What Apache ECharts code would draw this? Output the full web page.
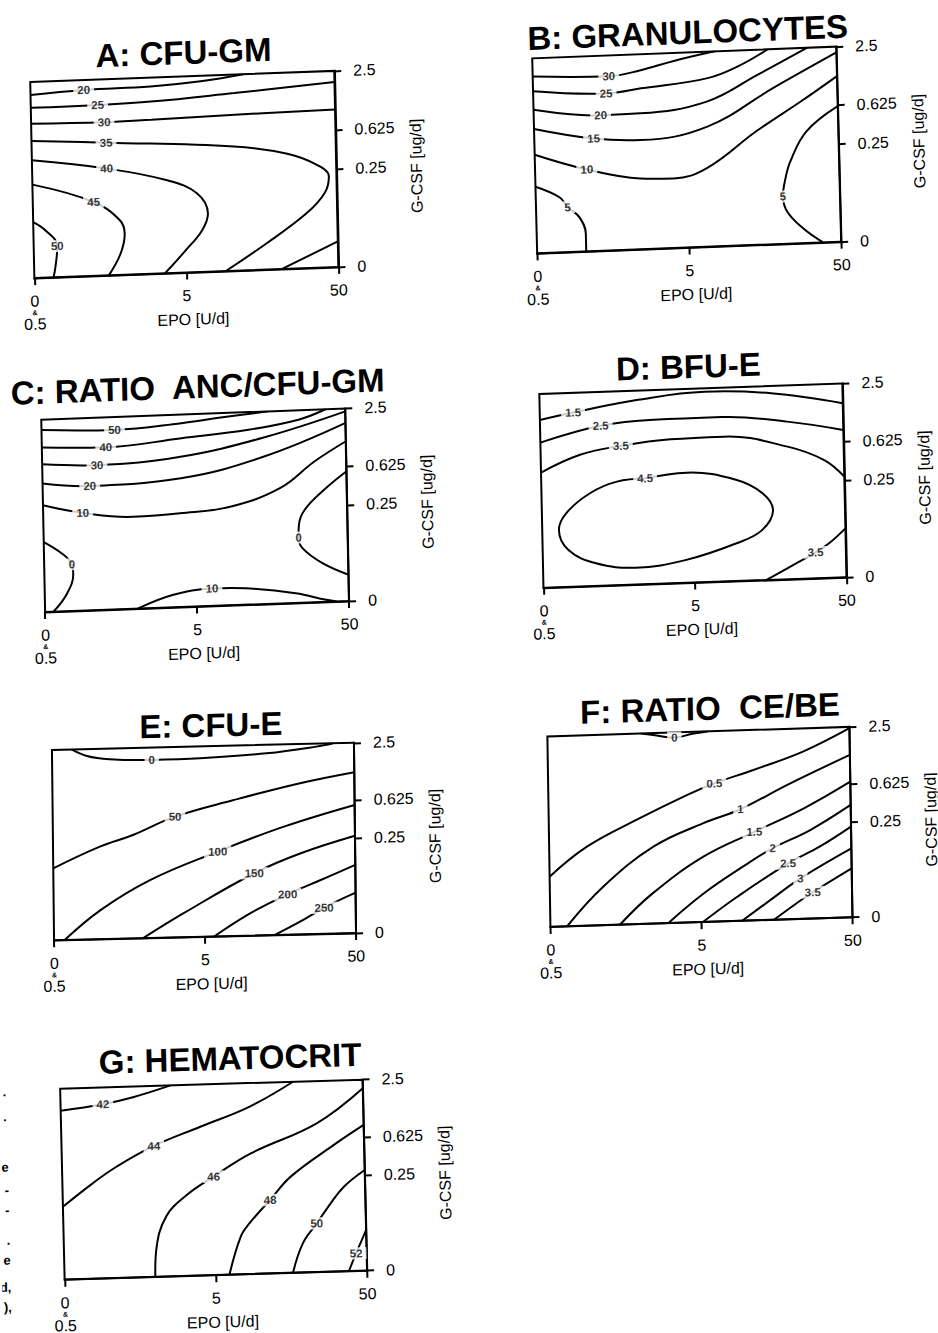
<!DOCTYPE html>
<html>
<head>
<meta charset="utf-8">
<title>EPO / G-CSF response surfaces</title>
<script src="https://cdn.jsdelivr.net/npm/echarts@6/dist/echarts.min.js"></script>
<style>
    html, body { margin: 0; padding: 0; background: #fff; }
    body { width: 938px; height: 1333px; position: relative; overflow: hidden; }
    .panel { position: absolute; left: 0; top: 0; width: 938px; height: 1333px; }
</style>
</head>
<body>
<script>
    // x position = log10(EPO / 0.5): 0 (and 0.5) U/d -> 0, 5 -> 1, 50 -> 2
    // y position = 0.5 * log10(G-CSF / 0.025): 0 -> 0, 0.25 -> 0.5, 0.625 -> 0.7, 2.5 -> 1
    var xTicks = [0, 1, 2];
    var xTickText = [['0', '&', '0.5'], ['5'], ['50']];
    var yTicks = [0, 0.5, 0.7, 1];
    var yTickText = ['0', '0.25', '0.625', '2.5'];

    // A: CFU-GM
    var aLines = [
        [[0, 0.934], [0.35, 0.95], [0.79, 0.955], [1.12, 0.972], [1.4, 1]],
        [[0, 0.869], [0.44, 0.871], [0.79, 0.878], [1.34, 0.906], [2, 0.943]],
        [[0, 0.788], [0.48, 0.781], [0.79, 0.785], [1.34, 0.795], [2, 0.803]],
        [[0, 0.70], [0.49, 0.677], [1.33, 0.633], [1.68, 0.586], [1.87, 0.525], [1.95, 0.463], [1.92, 0.379], [1.80, 0.28], [1.53, 0.133], [1.26, 0]],
        [[0, 0.601], [0.49, 0.545], [0.88, 0.475], [1.08, 0.402], [1.15, 0.297], [1.11, 0.213], [1.0, 0.114], [0.86, 0]],
        [[0, 0.477], [0.40, 0.377], [0.57, 0.279], [0.60, 0.21], [0.57, 0.108], [0.49, 0]],
        [[0, 0.286], [0.08, 0.241], [0.155, 0.159], [0.14, 0.052], [0.126, 0]],
        [[1.63, 0], [2, 0.13]]
    ];
    var aLabels = [[0.35, 0.95, '20'], [0.44, 0.871, '25'], [0.48, 0.781, '30'], [0.49, 0.677, '35'],
        [0.49, 0.545, '40'], [0.40, 0.377, '45'], [0.155, 0.159, '50']];

    // B: GRANULOCYTES
    var bLines = [
        [[0, 0.907], [0.5, 0.893], [0.71, 0.918], [0.93, 0.959], [1.2, 1]],
        [[0, 0.832], [0.48, 0.806], [0.71, 0.825], [1.15, 0.864], [1.35, 0.918], [1.55, 1]],
        [[0, 0.736], [0.44, 0.695], [0.70, 0.697], [1.14, 0.744], [1.48, 0.872], [1.81, 1]],
        [[0, 0.638], [0.39, 0.577], [0.70, 0.56], [1.14, 0.616], [1.58, 0.801], [2, 0.97]],
        [[0, 0.506], [0.34, 0.42], [0.69, 0.363], [0.91, 0.357], [1.13, 0.403], [1.46, 0.582], [1.76, 0.727], [2, 0.849]],
        [[0, 0.342], [0.156, 0.283], [0.208, 0.23], [0.283, 0.177], [0.323, 0.091], [0.323, 0]],
        [[2, 0.695], [1.79, 0.572], [1.68, 0.422], [1.64, 0.32], [1.625, 0.243], [1.65, 0.165], [1.75, 0.077], [1.88, 0]]
    ];
    var bLabels = [[0.5, 0.893, '30'], [0.48, 0.806, '25'], [0.44, 0.695, '20'], [0.39, 0.577, '15'],
        [0.34, 0.42, '10'], [0.208, 0.23, '5'], [1.625, 0.243, '5']];

    // C: RATIO ANC/CFU-GM
    var cLines = [
        [[0, 0.946], [0.48, 0.933], [0.92, 0.955], [1.18, 0.977], [1.49, 1]],
        [[0, 0.855], [0.42, 0.844], [0.92, 0.877], [1.36, 0.908], [1.69, 0.951], [1.87, 1]],
        [[0, 0.768], [0.36, 0.753], [0.91, 0.781], [1.46, 0.865], [2, 0.985]],
        [[0, 0.668], [0.31, 0.646], [0.91, 0.669], [1.46, 0.766], [2, 0.925]],
        [[0, 0.555], [0.26, 0.508], [0.59, 0.478], [0.9, 0.487], [1.23, 0.512], [1.56, 0.599], [1.79, 0.731], [2, 0.83]],
        [[0, 0.364], [0.12, 0.30], [0.182, 0.243], [0.19, 0.194], [0.146, 0.091], [0.055, 0]],
        [[2, 0.674], [1.85, 0.582], [1.72, 0.482], [1.68, 0.405], [1.676, 0.339], [1.70, 0.283], [1.83, 0.201], [2, 0.136]],
        [[0.61, 0], [0.84, 0.064], [1.1, 0.091], [1.32, 0.085], [1.65, 0.05], [1.85, 0.01], [1.92, 0]]
    ];
    var cLabels = [[0.48, 0.933, '50'], [0.42, 0.844, '40'], [0.36, 0.753, '30'], [0.31, 0.646, '20'],
        [0.26, 0.508, '10'], [0.182, 0.243, '0'], [1.676, 0.339, '0'], [1.1, 0.091, '10']];

    // D: BFU-E
    var dLines = [
        [[0, 0.866], [0.22, 0.898], [0.65, 0.952], [1.09, 0.982], [1.53, 0.962], [2, 0.898]],
        [[0, 0.749], [0.40, 0.825], [0.75, 0.846], [1.2, 0.848], [1.63, 0.813], [2, 0.76]],
        [[0, 0.594], [0.26, 0.679], [0.53, 0.718], [0.86, 0.743], [1.21, 0.747], [1.63, 0.684], [1.87, 0.608], [2, 0.519]],
        [[0.686, 0.546], [0.96, 0.568], [1.29, 0.521], [1.46, 0.447], [1.525, 0.36], [1.45, 0.258], [1.28, 0.195], [0.94, 0.117],
            [0.61, 0.087], [0.35, 0.117], [0.17, 0.19], [0.11, 0.295], [0.16, 0.38], [0.32, 0.479], [0.50, 0.534], [0.686, 0.546]],
        [[2, 0.252], [1.89, 0.178], [1.80, 0.134], [1.67, 0.08], [1.47, 0]]
    ];
    var dLabels = [[0.22, 0.898, '1.5'], [0.40, 0.825, '2.5'], [0.53, 0.718, '3.5'], [0.686, 0.546, '4.5'], [1.80, 0.134, '3.5']];

    // E: CFU-E
    var eLines = [
        [[0.13, 1], [0.23, 0.964], [0.38, 0.944], [0.66, 0.935], [0.98, 0.938], [1.42, 0.955], [1.75, 0.984], [1.86, 1]],
        [[0, 0.378], [0.31, 0.486], [0.53, 0.543], [0.81, 0.634], [1.2, 0.714], [1.64, 0.794], [2, 0.845]],
        [[0.07, 0], [0.31, 0.153], [0.64, 0.304], [1.09, 0.445], [1.53, 0.568], [2, 0.673]],
        [[0.59, 0], [0.86, 0.126], [1.33, 0.327], [1.64, 0.426], [2, 0.511]],
        [[1.06, 0], [1.3, 0.117], [1.55, 0.212], [1.77, 0.283], [2, 0.358]],
        [[1.46, 0], [1.63, 0.067], [1.79, 0.137], [2, 0.212]]
    ];
    var eLabels = [[0.66, 0.935, '0'], [0.81, 0.634, '50'], [1.09, 0.445, '100'], [1.33, 0.327, '150'],
        [1.55, 0.212, '200'], [1.79, 0.137, '250']];

    // F: RATIO CE/BE
    var fLines = [
        [[0.62, 1], [0.7, 0.99], [0.84, 0.973], [0.96, 0.99], [1.06, 1]],
        [[0, 0.264], [0.25, 0.415], [0.58, 0.547], [0.92, 0.67], [1.1, 0.726], [1.36, 0.79], [1.69, 0.878], [2, 0.993]],
        [[0.11, 0], [0.35, 0.2], [0.69, 0.404], [1.02, 0.518], [1.27, 0.586], [1.58, 0.705], [2, 0.853]],
        [[0.46, 0], [0.68, 0.159], [1.02, 0.343], [1.36, 0.465], [1.69, 0.58], [2, 0.712]],
        [[0.78, 0], [1.02, 0.151], [1.28, 0.284], [1.48, 0.376], [1.73, 0.465], [2, 0.59]],
        [[1.01, 0], [1.24, 0.127], [1.58, 0.294], [1.79, 0.376], [2, 0.476]],
        [[1.27, 0], [1.46, 0.105], [1.66, 0.213], [2, 0.362]],
        [[1.48, 0], [1.63, 0.082], [1.74, 0.138], [2, 0.257]]
    ];
    var fLabels = [[0.84, 0.973, '0'], [1.1, 0.726, '0.5'], [1.27, 0.586, '1'], [1.36, 0.465, '1.5'],
        [1.48, 0.376, '2'], [1.58, 0.294, '2.5'], [1.66, 0.213, '3'], [1.74, 0.138, '3.5']];

    // G: HEMATOCRIT
    var gLines = [
        [[0, 0.885], [0.28, 0.912], [0.48, 0.944], [0.73, 1]],
        [[0, 0.382], [0.2, 0.5], [0.36, 0.583], [0.61, 0.686], [0.92, 0.779], [1.25, 0.877], [1.54, 1]],
        [[0.6, 0], [0.61, 0.141], [0.68, 0.314], [0.82, 0.424], [1.0, 0.516], [1.25, 0.632], [1.69, 0.779], [2, 0.955]],
        [[1.09, 0], [1.17, 0.197], [1.23, 0.266], [1.37, 0.385], [1.51, 0.504], [1.8, 0.663], [2, 0.763]],
        [[1.51, 0], [1.58, 0.153], [1.675, 0.255], [1.77, 0.358], [1.86, 0.443], [2, 0.527]],
        [[1.88, 0], [1.93, 0.092], [1.97, 0.161], [2, 0.213]]
    ];
    var gLabels = [[0.28, 0.912, '42'], [0.61, 0.686, '44'], [1.0, 0.516, '46'], [1.37, 0.385, '48'],
        [1.675, 0.255, '50'], [1.93, 0.092, '52']];

    // line ends of the neighbouring page column that show at the left margin
    var marginBits = ['·', '·', 'e', '-', '-', '.', 'e', 'd,', '),'];

    // layout: plot box centre / size, scan tilt, title centre
    var panels = [
        {title: 'A: CFU-GM', lines: aLines, labels: aLabels, cx: 184.3, cy: 174.5, w: 304, h: 196, ta: 0.037, tb: 0.021, tx: 186, ty: 52.5},
        {title: 'B: GRANULOCYTES', lines: bLines, labels: bLabels, cx: 686.7, cy: 150, w: 304, h: 195, ta: 0.0386, tb: 0.0254, tx: 690.7, ty: 32.4},
        {title: 'C: RATIO  ANC/CFU-GM', lines: cLines, labels: cLabels, cx: 195.2, cy: 510.3, w: 304, h: 192.4, ta: 0.0366, tb: 0.02, tx: 200.1, ty: 386.7},
        {title: 'D: BFU-E', lines: dLines, labels: dLabels, cx: 692.9, cy: 485.6, w: 303, h: 193.8, ta: 0.0347, tb: 0.0214, tx: 690.9, ty: 366.5},
        {title: 'E: CFU-E', lines: eLines, labels: eLabels, cx: 204, cy: 841.5, w: 302, h: 190.4, ta: 0.024, tb: 0.011, tx: 212.1, ty: 725.2},
        {title: 'F: RATIO  CE/BE', lines: fLines, labels: fLabels, cx: 699.9, cy: 826.9, w: 302, h: 190.4, ta: 0.032, tb: 0.016, tx: 711.9, ty: 708.6},
        {title: 'G: HEMATOCRIT', lines: gLines, labels: gLabels, cx: 213.6, cy: 1179.7, w: 302.4, h: 191, ta: 0.030, tb: 0.0235, tx: 232.9, ty: 1058.8,
            margin: true}
    ];
    var marginY = [1089, 1114, 1161, 1184, 1204, 1234, 1254, 1281, 1301];

    var FONT = '"Liberation Sans", Arial, Helvetica, sans-serif';

    function xLabel(v) {
        var i = xTicks.indexOf(v);
        if (i < 0) return '';
        return xTickText[i].map(function (t) {
            return t === '&' ? '{s|&}' : '{n|' + t + '}';
        }).join('\n');
    }

    function yLabel(v) {
        for (var i = 0; i < yTicks.length; i++) {
            if (Math.abs(yTicks[i] - v) < 1e-6) return yTickText[i];
        }
        return '';
    }

    function drawPanel(p) {
        var el = document.createElement('div');
        el.className = 'panel';
        el.style.transformOrigin = p.cx + 'px ' + p.cy + 'px';
        el.style.transform = 'matrix(1,' + (-p.ta) + ',' + p.tb + ',1,0,0)';
        document.body.appendChild(el);
        var chart = echarts.init(el, null, {renderer: 'svg', width: 938, height: 1333});

        var series = p.lines.map(function (pts) {
            return {
                type: 'line',
                data: pts,
                smooth: 0.4,
                symbol: 'none',
                silent: true,
                lineStyle: {color: '#000', width: 2},
                z: 2
            };
        });
        series.push({
            type: 'scatter',
            data: p.labels.map(function (l) {
                return {value: [l[0], l[1]], name: l[2]};
            }),
            symbolSize: 1,
            itemStyle: {color: 'rgba(0,0,0,0)'},
            silent: true,
            z: 5,
            label: {
                show: true,
                position: 'inside',
                formatter: '{b}',
                color: '#000',
                fontFamily: FONT,
                fontSize: 11.5,
                fontWeight: 'bold',
                backgroundColor: '#fff',
                padding: [0, 4]
            }
        });

        var graphics = [{
            type: 'text',
            x: p.tx,
            y: p.ty,
            silent: true,
            style: {
                text: p.title,
                fill: '#000',
                font: 'bold 33px ' + FONT,
                align: 'center',
                verticalAlign: 'middle',
                textAlign: 'center',
                textVerticalAlign: 'middle'
            }
        }];
        if (p.margin) {
            marginBits.forEach(function (t, i) {
                graphics.push({
                    type: 'text',
                    x: 9,
                    y: marginY[i],
                    silent: true,
                    style: {
                        text: t,
                        fill: '#000',
                        font: 'bold 13px ' + FONT,
                        align: 'right',
                        verticalAlign: 'middle',
                        textAlign: 'right',
                        textVerticalAlign: 'middle'
                    }
                });
            });
        }

        chart.setOption({
            animation: false,
            grid: {
                left: p.cx - p.w / 2,
                top: p.cy - p.h / 2,
                width: p.w,
                height: p.h,
                show: true,
                borderColor: '#000',
                borderWidth: 2,
                backgroundColor: 'transparent',
                outerBoundsMode: 'none'
            },
            xAxis: {
                type: 'value',
                min: 0,
                max: 2,
                interval: 1,
                position: 'bottom',
                axisLine: {show: true, onZero: false, lineStyle: {color: '#000', width: 2}},
                axisTick: {show: true, inside: false, length: 7, lineStyle: {color: '#000', width: 2}},
                splitLine: {show: false},
                axisLabel: {
                    margin: 17,
                    color: '#000',
                    formatter: xLabel,
                    rich: {
                        n: {fontFamily: FONT, fontSize: 16, lineHeight: 12, color: '#000'},
                        s: {fontFamily: FONT, fontSize: 7, lineHeight: 11, fontWeight: 'bold', color: '#000'}
                    }
                },
                name: 'EPO [U/d]',
                nameLocation: 'middle',
                nameGap: 39,
                nameMoveOverlap: false,
                nameTextStyle: {color: '#000', fontFamily: FONT, fontSize: 16, padding: [0, 0, 0, 12]}
            },
            yAxis: {
                type: 'value',
                min: 0,
                max: 1,
                position: 'right',
                axisLine: {show: true, onZero: false, lineStyle: {color: '#000', width: 2}},
                axisTick: {show: true, inside: false, length: 7, customValues: yTicks, lineStyle: {color: '#000', width: 2}},
                splitLine: {show: false},
                axisLabel: {
                    margin: 19,
                    customValues: yTicks,
                    color: '#000',
                    fontFamily: FONT,
                    fontSize: 16,
                    formatter: yLabel
                },
                name: 'G-CSF [ug/d]',
                nameLocation: 'middle',
                nameRotate: 90,
                nameGap: 72,
                nameMoveOverlap: false,
                nameTextStyle: {color: '#000', fontFamily: FONT, fontSize: 16}
            },
            graphic: graphics,
            series: series
        });
    }

    panels.forEach(drawPanel);
</script>
</body>
</html>
